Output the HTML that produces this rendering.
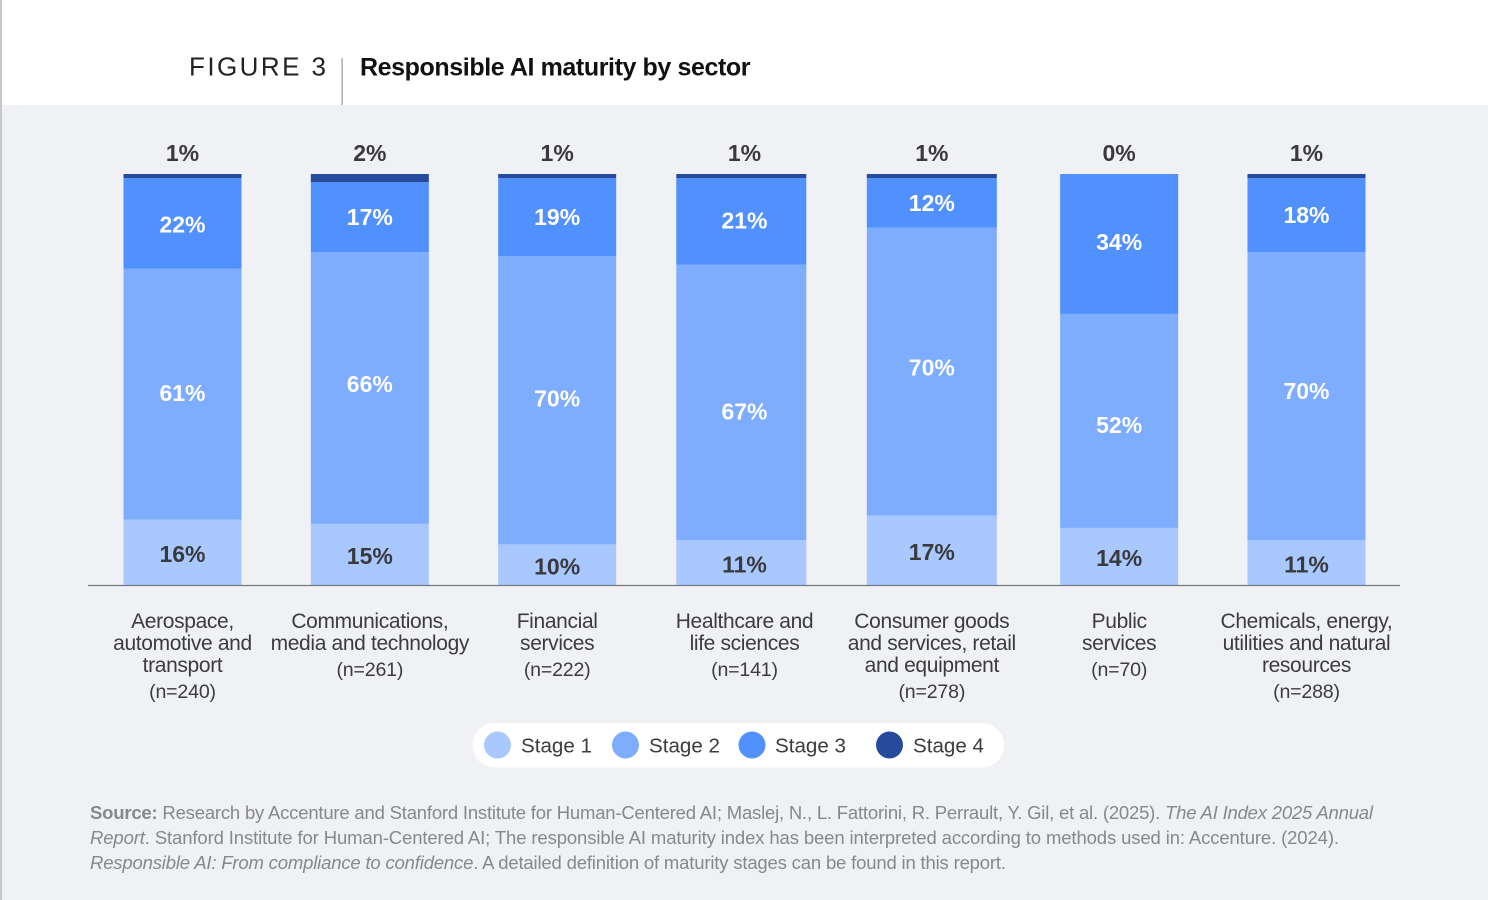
<!DOCTYPE html>
<html lang="en">
<head>
<meta charset="utf-8">
<title>Responsible AI maturity by sector</title>
<style>
  html, body { margin: 0; padding: 0; background: #eff1f5; }
  svg { display: block; font-family: "Liberation Sans", Arial, sans-serif; }
  .s1 { fill: #a8c8ff; }
  .s2 { fill: #7eacff; }
  .s3 { fill: #5090ff; }
  .s4 { fill: #264a9c; }
  .value { font-size: 23px; font-weight: bold; text-anchor: middle; dominant-baseline: central; }
  .value-dark { fill: #3a3a3a; }
  .value-light { fill: #ffffff; }
  .value-low { transform: translateY(1.5px); }
  .cat { font-size: 21px; fill: #3c3c3c; text-anchor: middle; letter-spacing: -0.35px; }
  .cat-n { font-size: 19.6px; letter-spacing: -0.2px; }
  .legend-text { font-size: 20.6px; fill: #3c3c3c; }
  .source { font-size: 18.5px; fill: #87888c; }
  .nudge-0 { transform: translateY(-1px); }
  .nudge-1 { transform: translateY(-4px); }
  .nudge-2 { transform: translateY(-2px); }
  .nudge-3 { transform: translateY(9px); }
  .nudge-4 { transform: translateY(-4px); }
  .nudge-5 { transform: translateY(4px); }
  .nudge-6 { transform: translateY(-5px); }
  .nudge-upper-5 { transform: translateY(-2px); }
  .nudge-upper-0 { transform: translateY(1px); }
  .nudge-upper-3 { transform: translateY(-1px); }
</style>
</head>
<body>
<svg id="chart" width="1488" height="900" viewBox="0 0 1488 900" xmlns="http://www.w3.org/2000/svg">
  <rect x="0" y="0" width="1488" height="900" fill="#eff1f5"/>
  <rect x="0" y="0" width="1488" height="105" fill="#ffffff"/>
  <rect x="0" y="0" width="2" height="900" fill="#c8c8c8"/>
  <text x="189" y="75.5" font-size="26px" fill="#222222" textLength="137">FIGURE 3</text>
  <rect x="341.5" y="58" width="1.2" height="47" fill="#999999"/>
  <text x="360" y="75.5" font-size="25px" font-weight="bold" fill="#111111" textLength="390.5">Responsible AI maturity by sector</text>

  <g id="bars"></g>
  <g id="labels"></g>
  <g id="categories"></g>
  <line x1="88" x2="1400" y1="585.5" y2="585.5" stroke="#77797c" stroke-width="1.2"/>

  <g>
    <rect x="472.5" y="723" width="531.5" height="44.5" rx="22" fill="#ffffff"/>
    <g>
      <circle class="s1" cx="497.5" cy="745" r="13.5"/>
      <text class="legend-text" x="521" y="752.5">Stage 1</text>
    </g>
    <g>
      <circle class="s2" cx="625.5" cy="745" r="13.5"/>
      <text class="legend-text" x="649" y="752.5">Stage 2</text>
    </g>
    <g>
      <circle class="s3" cx="752" cy="745" r="13.5"/>
      <text class="legend-text" x="775" y="752.5">Stage 3</text>
    </g>
    <g>
      <circle class="s4" cx="889.5" cy="745" r="13.5"/>
      <text class="legend-text" x="913" y="752.5">Stage 4</text>
    </g>
  </g>

  <g>
    <text class="source" x="90" y="819" textLength="1283"><tspan font-weight="bold">Source:</tspan> Research by Accenture and Stanford Institute for Human-Centered AI; Maslej, N., L. Fattorini, R. Perrault, Y. Gil, et al. (2025). <tspan font-style="italic">The AI Index 2025 Annual</tspan></text>
    <text class="source" x="90" y="844" textLength="1249"><tspan font-style="italic">Report</tspan>. Stanford Institute for Human-Centered AI; The responsible AI maturity index has been interpreted according to methods used in: Accenture. (2024).</text>
    <text class="source" x="90" y="869" textLength="916"><tspan font-style="italic">Responsible AI: From compliance to confidence</tspan>. A detailed definition of maturity stages can be found in this report.</text>
  </g>
</svg>

<script>
const categories = [
  ["Aerospace,", "automotive and", "transport"],
  ["Communications,", "media and technology"],
  ["Financial", "services"],
  ["Healthcare and", "life sciences"],
  ["Consumer goods", "and services, retail", "and equipment"],
  ["Public", "services"],
  ["Chemicals, energy,", "utilities and natural", "resources"]
];
const sampleSizes = [240, 261, 222, 141, 278, 70, 288];
const stage1 = [16, 15, 10, 11, 17, 14, 11];
const stage2 = [61, 66, 70, 67, 70, 52, 70];
const stage3 = [22, 17, 19, 21, 12, 34, 18];
const stage4 = [1, 2, 1, 1, 1, 0, 1];

const SVG_NS = "http://www.w3.org/2000/svg";
const barsGroup = document.getElementById("bars");
const labelsGroup = document.getElementById("labels");
const categoriesGroup = document.getElementById("categories");

function yScale(value) {
  return 585.5 - value * 4.115;
}
function xCenter(index) {
  return 182.5 + index * 187.33;
}
function barWidth(index) {
  return (index === 3 || index === 4) ? 130 : 118;
}
function barShift(index) {
  return index === 3 ? -3.2 : 0;
}
function make(tag, attrs) {
  const el = document.createElementNS(SVG_NS, tag);
  Object.keys(attrs).forEach(function (key) { el.setAttribute(key, attrs[key]); });
  return el;
}

categories.forEach(function (lines, i) {
  const cx = xCenter(i);
  const w = barWidth(i);
  const series = [stage1[i], stage2[i], stage3[i], stage4[i]];
  let cumulative = 0;

  series.forEach(function (value, s) {
    const top = yScale(cumulative + value);
    const bottom = yScale(cumulative);
    const rect = make("rect", { x: cx + barShift(i) - w / 2, y: top, width: w, height: bottom - top, "class": "s" + (s + 1) });
    
    
    barsGroup.appendChild(rect);

    const isTop = s === 3;
    const labelY = isTop ? top - 21 : (top + bottom) / 2;
    const tone = (s === 0 || isTop) ? "value-dark" : "value-light";
    const nudge = s === 0 ? " value-low" : s === 1 ? " nudge-" + i : s === 2 ? " nudge-upper-" + i : "";
    const label = make("text", { x: cx, y: labelY, "class": "value " + tone + nudge });
    
    
    label.textContent = value + "%";
    labelsGroup.appendChild(label);

    cumulative += value;
  });

  lines.forEach(function (line, l) {
    const t = make("text", { x: cx, y: 628 + l * 22, "class": "cat" });
    
    
    t.textContent = line;
    categoriesGroup.appendChild(t);
  });
  const n = make("text", { x: cx, y: 628 + (lines.length - 1) * 22 + 26, "class": "cat cat-n" });
  
  
  n.textContent = "(n=" + sampleSizes[i] + ")";
  categoriesGroup.appendChild(n);
});
</script>
</body>
</html>
